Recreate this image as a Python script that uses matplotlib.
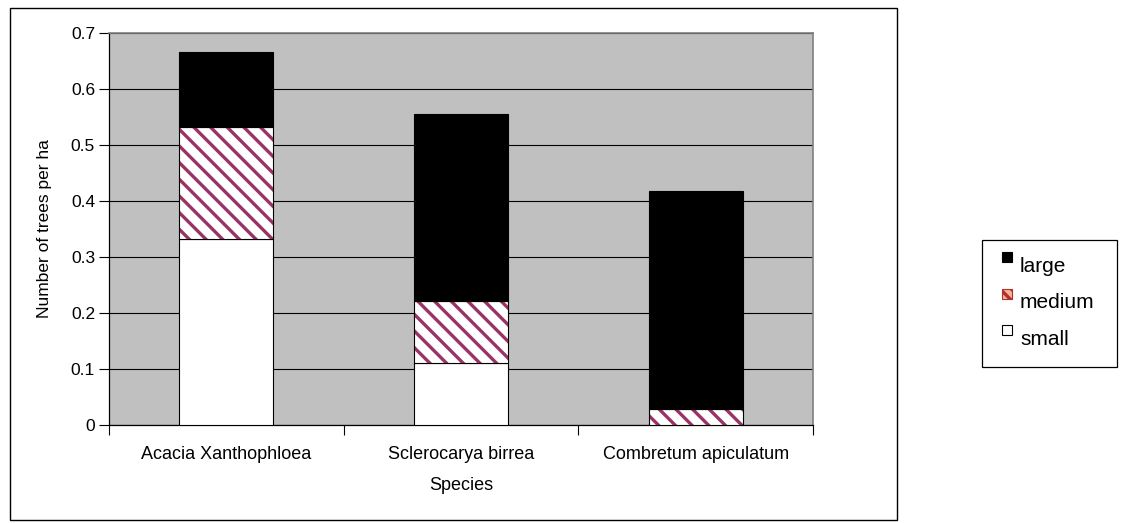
import matplotlib.pyplot as plt
from matplotlib.patches import Rectangle
import numpy as np

plt.rcParams['font.family'] = ['Liberation Sans', 'DejaVu Sans']
plt.rcParams['hatch.linewidth'] = 2.4

species = ['Acacia Xanthophloea', 'Sclerocarya birrea', 'Combretum apiculatum']
small = [0.333, 0.111, 0.0]
medium = [0.2, 0.111, 0.028]
large = [0.133, 0.333, 0.389]

yticks = [0, 0.1, 0.2, 0.3, 0.4, 0.5, 0.6, 0.7]
ytick_labels = ['0', '0.1', '0.2', '0.3', '0.4', '0.5', '0.6', '0.7']

W, H = 1123, 523
fig = plt.figure(figsize=(W / 100, H / 100), dpi=100)
ax = fig.add_axes([109 / W, 1 - 425 / H, 704 / W, 392 / H])
ax.set_facecolor('#c0c0c0')

x = np.arange(len(species))
w = 0.4
small = np.array(small)
medium = np.array(medium)
large = np.array(large)

ax.bar(x, small, w, color='white', edgecolor='black', linewidth=0.8, zorder=3)
ax.bar(x, medium, w, bottom=small, color='white', edgecolor='#993366',
       hatch='\\\\', linewidth=0, zorder=3)
ax.bar(x, medium, w, bottom=small, fill=False, edgecolor='black',
       linewidth=0.8, zorder=4)
ax.bar(x, large, w, bottom=small + medium, color='black', edgecolor='black',
       linewidth=0.8, zorder=3)

ax.set_xlim(-0.5, len(species) - 0.5)
ax.set_ylim(0, 0.7)
ax.set_yticks(yticks)
ax.set_yticklabels(ytick_labels)
ax.yaxis.grid(True, color='black', linewidth=0.8)
ax.set_axisbelow(True)

# tick marks on category boundaries, labels at category centers
ax.set_xticks(np.arange(-0.5, len(species)))
ax.set_xticklabels([])
ax.set_xticks(x, minor=True)
ax.set_xticklabels(species, minor=True)
ax.tick_params(axis='x', which='major', length=7, width=0.8, direction='out')
ax.tick_params(axis='x', which='minor', length=0, pad=15, labelsize=13)
ax.tick_params(axis='y', length=7, width=0.8, direction='out', labelsize=12.5, pad=3)

for s in ['left', 'bottom']:
    ax.spines[s].set_color('black')
    ax.spines[s].set_linewidth(0.9)
for s in ['top', 'right']:
    ax.spines[s].set_color('#808080')
    ax.spines[s].set_linewidth(1.2)

ax.set_xlabel('Species', fontsize=13, labelpad=10)
ax.set_ylabel('Number of trees per ha', fontsize=12.5)
ax.yaxis.set_label_coords((52 - 109) / 704, 0.5)

# outer chart frame
fig.patches.append(Rectangle((10 / W, 1 - 520 / H), 887 / W, 512 / H,
                             transform=fig.transFigure, fill=False,
                             edgecolor='black', linewidth=1.0))

# legend box with small square keys sitting above the text baseline
fig.patches.append(Rectangle((982 / W, 1 - 367 / H), 135 / W, 127 / H,
                             transform=fig.transFigure, fill=False,
                             edgecolor='black', linewidth=0.9))
legend_labels = ['large', 'medium', 'small']
legend_faces = ['black', '#f4b49a', 'white']
legend_edges = ['black', '#b03030', 'black']
legend_hatches = [None, '\\\\\\', None]
for i, lab in enumerate(legend_labels):
    top = 252 + 36.5 * i
    fig.patches.append(Rectangle((1002 / W, 1 - (top + 10) / H), 10 / W, 10 / H,
                                 transform=fig.transFigure,
                                 facecolor=legend_faces[i],
                                 edgecolor=legend_edges[i],
                                 hatch=legend_hatches[i], linewidth=0.8))
    fig.text(1020 / W, 1 - (top + 20) / H, lab, fontsize=15,
             ha='left', va='baseline')

fig.savefig('out.png', dpi=100)
